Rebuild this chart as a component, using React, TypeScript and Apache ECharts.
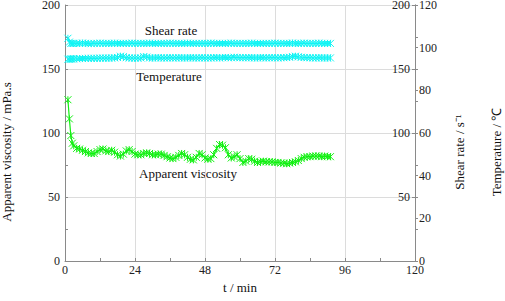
import { useEffect, useRef } from "react";
import * as echarts from "echarts";

const timeMin = [
  1, 1.5, 2, 2.5, 3, 4, 5, 6, 7, 8, 9, 10, 11, 12, 13, 14, 15, 16, 17, 18, 19, 20,
  21, 22, 23, 24, 25, 26, 27, 28, 29, 30, 31, 32, 33, 34, 35, 36, 37, 38, 39, 40,
  41, 42, 43, 44, 45, 46, 47, 48, 49, 50, 51, 52, 53, 54, 55, 56, 57, 58, 59, 60,
  61, 62, 63, 64, 65, 66, 67, 68, 69, 70, 71, 72, 73, 74, 75, 76, 77, 78, 79, 80,
  81, 82, 83, 84, 85, 86, 87, 88, 89, 90, 91,
];

const viscosity = [
  126, 111, 98, 92, 90, 88, 87.5, 86.5, 85.5, 84.5, 84, 84, 85.5, 87, 87.5, 86, 85.5, 86.5, 85, 83, 82, 83.5,
  86, 87, 85.5, 83.5, 83, 83, 84, 84.5, 84, 83, 83, 83.5, 83.5, 82.5, 81.5, 80.5, 80, 81, 82.5, 84,
  83, 81, 79.5, 79, 81, 84, 83, 80.5, 79.5, 80, 83, 88, 91, 90.5, 88.5, 83, 80.5, 81.5, 83, 80,
  77, 78, 80, 79.5, 78, 77, 77.5, 78, 77.5, 77.5, 77.5, 77, 77, 76.5, 76.5, 76, 76.5, 77, 77.5, 78.5,
  80, 81, 81.5, 81.5, 82, 82, 82, 81.5, 82, 81.5, 81.5,
];

const shearRate = [
  174, 171, 170, 170, 170, 170, 170, 170.3, 170, 170, 169.8, 170, 170, 170.2, 170, 170, 170, 170, 170.2, 170, 170, 170,
  170, 170, 170.2, 170, 170, 170, 170, 170, 170.2, 170, 170, 170, 170, 170, 170, 170.2, 170, 170, 170, 170,
  170, 170.2, 170, 170, 170, 170, 170, 170, 170, 170.2, 170, 170, 170, 170, 170, 170, 170.2, 170, 170, 170,
  170, 170, 170, 170.2, 170, 170, 170, 170, 170, 170, 170, 170.2, 170, 170, 170, 170, 170, 170.3, 170, 170,
  170, 170.2, 170, 170, 170, 170, 170.2, 170, 170, 170, 170,
];

const temperature = [
  94.6, 94.6, 94.7, 94.7, 94.8, 94.8, 94.9, 94.9, 95.0, 95.0, 95.0, 95.0, 95.0, 95.1, 95.1, 95.1, 95.1, 95.2, 95.2, 95.4, 96.0, 95.8,
  95.3, 95.2, 95.1, 95.1, 95.1, 95.2, 95.8, 95.6, 95.2, 95.2, 95.2, 95.3, 95.2, 95.2, 95.2, 95.3, 95.2, 95.2, 95.3, 95.2,
  95.2, 95.2, 95.3, 95.2, 95.2, 95.2, 95.3, 95.2, 95.2, 95.2, 95.3, 95.3, 95.2, 95.3, 95.4, 95.3, 95.3, 95.5, 95.4, 95.3,
  95.3, 95.3, 95.3, 95.3, 95.2, 95.2, 95.3, 95.3, 95.2, 95.3, 95.3, 95.3, 95.2, 95.3, 95.3, 95.4, 95.5, 95.8, 96.0, 95.7,
  95.5, 95.4, 95.3, 95.3, 95.2, 95.2, 95.3, 95.2, 95.2, 95.2, 95.2,
];

const xAxisName = "t / min";
const viscosityName = "Apparent viscosity / mPa.s";
const shearName = "Shear rate / s\u207B\u00B9";
const tempName = "Temperature / \u2103";

const FONT = "Liberation Serif";
const ASTERISK = "path://M0,0L10,10M10,0L0,10M5,0L5,10";

function pairs(ys: number[]) {
  return timeMin.map((t, i) => [t, ys[i]]);
}

export default function App() {
  const ref = useRef<HTMLDivElement>(null);
  useEffect(() => {
    document.body.style.margin = "0";
    if (!ref.current) return;
    const chart = echarts.init(ref.current, null, { renderer: "svg" });
    const labelStyle = { color: "#222", fontFamily: FONT, fontSize: 12 };
    const nameStyle = { color: "#111", fontFamily: FONT, fontSize: 13 };
    const rotNameStyle = { ...nameStyle, padding: [0, 38, 0, 0] };
    const axisLine = { show: true, lineStyle: { color: "#8a8a8a", width: 1 } };
    const mkSeries = (name: string, data: number[], color: string, yAxisIndex: number) => ({
      name,
      type: "line",
      yAxisIndex,
      data: pairs(data),
      symbol: ASTERISK,
      symbolSize: 7,
      lineStyle: { color, width: 1.2 },
      itemStyle: { color, borderColor: color, borderWidth: 1 },
    });
    chart.setOption({
      animation: false,
      backgroundColor: "#fff",
      textStyle: { fontFamily: FONT },
      grid: { left: 65, right: 90, top: 5, bottom: 40, outerBoundsMode: "none", containLabel: false },
      xAxis: {
        type: "value",
        min: 0,
        max: 120,
        interval: 24,
        name: xAxisName,
        nameLocation: "middle",
        nameGap: 17,
        nameTextStyle: nameStyle,
        axisLine,
        axisTick: { show: true, inside: true, length: 3, lineStyle: { color: "#8a8a8a" } },
        minorTick: { show: true, splitNumber: 2, length: 3, lineStyle: { color: "#8a8a8a" } },
        axisLabel: { ...labelStyle, margin: 3 },
        splitLine: { show: true, lineStyle: { color: "#dcdcdc", width: 1 } },
      },
      yAxis: [
        {
          type: "value",
          position: "left",
          min: 0,
          max: 200,
          interval: 50,
          name: viscosityName,
          nameLocation: "middle",
          nameGap: 52,
          nameTextStyle: rotNameStyle,
          axisLine,
          axisTick: { show: true, inside: true, length: 3, lineStyle: { color: "#8a8a8a" } },
          minorTick: { show: true, splitNumber: 2, length: 3, lineStyle: { color: "#8a8a8a" } },
          axisLabel: { ...labelStyle, margin: 5 },
          splitLine: { show: true, lineStyle: { color: "#dcdcdc", width: 1 } },
        },
        {
          type: "value",
          position: "right",
          min: 0,
          max: 200,
          interval: 50,
          name: shearName,
          nameLocation: "middle",
          nameGap: 38,
          nameTextStyle: rotNameStyle,
          axisLine,
          axisTick: { show: true, inside: true, length: 3, lineStyle: { color: "#8a8a8a" } },
          axisLabel: { ...labelStyle, inside: true, margin: 5, showMinLabel: false },
          splitLine: { show: false },
        },
        {
          type: "value",
          position: "right",
          min: 0,
          max: 120,
          interval: 20,
          name: tempName,
          nameLocation: "middle",
          nameGap: 75,
          nameTextStyle: rotNameStyle,
          axisLine,
          axisTick: { show: true, inside: false, length: 3, lineStyle: { color: "#8a8a8a" } },
          axisLabel: { ...labelStyle, margin: 4 },
          splitLine: { show: false },
        },
        {
          type: "value",
          position: "right",
          min: 0,
          max: 200,
          interval: 25,
          axisLine: { show: false },
          axisTick: { show: true, inside: false, length: 3, lineStyle: { color: "#8a8a8a" } },
          axisLabel: { show: false },
          splitLine: { show: false },
        },
      ],
      series: [
        mkSeries("Apparent viscosity", viscosity, "#11f011", 0),
        mkSeries("Shear rate", shearRate, "#11f4f4", 1),
        mkSeries("Temperature", temperature, "#11f4f4", 2),
      ],
      graphic: [
        { type: "text", x: 171, y: 30, style: { text: "Shear rate", fontFamily: FONT, fontSize: 13, fill: "#111", align: "center", verticalAlign: "middle" } },
        { type: "text", x: 169, y: 76, style: { text: "Temperature", fontFamily: FONT, fontSize: 13, fill: "#111", align: "center", verticalAlign: "middle" } },
        { type: "text", x: 188, y: 173, style: { text: "Apparent viscosity", fontFamily: FONT, fontSize: 13, fill: "#111", align: "center", verticalAlign: "middle" } },
      ],
    });
    return () => chart.dispose();
  }, []);
  return <div ref={ref} style={{ width: 505, height: 301 }} />;
}
